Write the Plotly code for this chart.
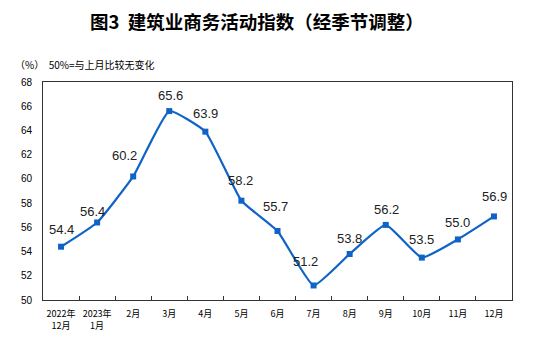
import plotly.graph_objects as go

months = ["2022年<br>12月", "2023年<br>1月", "2月", "3月", "4月", "5月", "6月",
          "7月", "8月", "9月", "10月", "11月", "12月"]
index_values = [54.4, 56.4, 60.2, 65.6, 63.9, 58.2, 55.7, 51.2, 53.8, 56.2, 53.5, 55.0, 56.9]
# label offsets (px) relative to each point
label_dx = [0, -5, -9, 1, 0, -1, -2, -8, 0, 1, 0, 0, 1]
label_dy = [17, 11, 21, 16, 18, 20, 24, 24, 15, 15, 18, 17, 20]

line_color = "#0F63C6"
cjk = "Noto Sans CJK SC"

fig = go.Figure()
fig.add_trace(go.Scatter(
    x=months, y=index_values, mode="lines+markers",
    line=dict(color=line_color, width=2.2, shape="spline", smoothing=0.4),
    marker=dict(symbol="square", size=6, color=line_color),
    hoverinfo="skip", showlegend=False,
))

for m, v, dx, dy in zip(months, index_values, label_dx, label_dy):
    fig.add_annotation(x=m, y=v, text=f"{v:.1f}", showarrow=False,
                       xshift=dx, yshift=dy,
                       font=dict(family="Liberation Sans, Arial", size=13, color="#222"))

fig.add_annotation(xref="paper", yref="paper", x=(257 - 43) / 469, y=1 + (82 - 21) / 218,
                   text="<b>图3  建筑业商务活动指数（经季节调整）</b>", showarrow=False,
                   xanchor="center", yanchor="middle",
                   font=dict(family=cjk, size=18.5, color="#000"))
fig.add_annotation(xref="paper", yref="paper", x=(13 - 43) / 469, y=1 + (82 - 64) / 218,
                   text="（%）  50%=与上月比较无变化", showarrow=False,
                   xanchor="left", yanchor="middle",
                   font=dict(family=cjk, size=10, color="#000"))

fig.update_xaxes(
    type="category", showline=True, linecolor="#333", linewidth=1, mirror=True,
    ticks="inside", tickson="boundaries", ticklen=4, tickcolor="#333",
    showgrid=False, tickfont=dict(family=cjk, size=9, color="#000"),
    tickangle=0, automargin=False, range=[-0.5, 12.5], ticklabelstandoff=5,
)
fig.update_yaxes(
    range=[50, 68], dtick=2, showline=True, linecolor="#333", linewidth=1, mirror=True,
    showgrid=False, ticks="", zeroline=False, automargin=False, ticklabelstandoff=8,
    tickfont=dict(family="Liberation Sans, Arial", size=10, color="#000"),
)
fig.update_layout(
    width=553, height=343,
    margin=dict(l=43, r=41, t=82, b=43, autoexpand=False),
    plot_bgcolor="white", paper_bgcolor="white",
)

fig.write_html("out.html")
